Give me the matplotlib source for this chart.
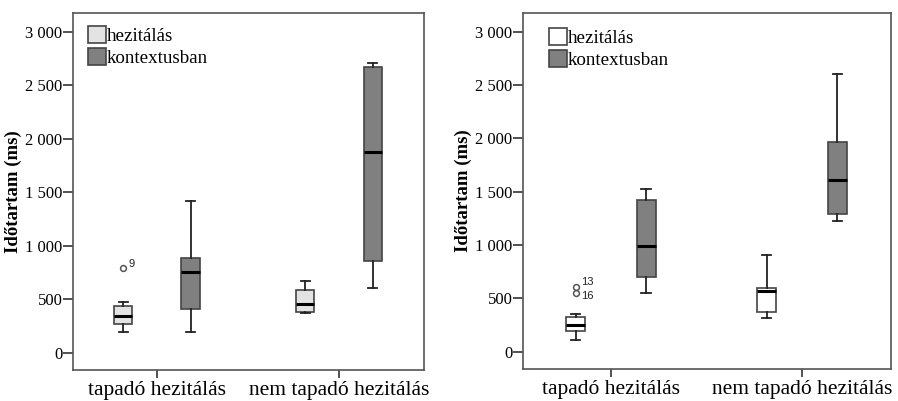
import matplotlib
matplotlib.use("Agg")
import matplotlib.pyplot as plt
from matplotlib.patches import Patch

categories = ["tapadó hezitálás", "nem tapadó hezitálás"]
series = ["hezitálás", "kontextusban"]
yticks = [0, 500, 1000, 1500, 2000, 2500, 3000]
yticklabels = ["0", "500", "1 000", "1 500", "2 000", "2 500", "3 000"]

# panel 1 stats: [whislo, q1, med, q3, whishi] per category, per series
p1_hez = [[190, 268, 340, 439, 477], [368, 377, 452, 589, 670]]
p1_kon = [[190, 408, 757, 882, 1420], [604, 857, 1872, 2666, 2704]]
p1_hez_fliers = [[791], []]
p1_hez_flier_labels = [["9"], []]

# panel 2 stats
p2_hez = [[112, 194, 250, 328, 350], [312, 369, 569, 600, 906]]
p2_kon = [[553, 700, 991, 1422, 1522], [1225, 1291, 1609, 1969, 2603]]
p2_hez_fliers = [[609, 550], []]
p2_hez_flier_labels = [["13", "16"], []]

light1 = "#e3e3e3"
light2 = "#ffffff"
dark = "#808080"
edge = "#444444"

fig = plt.figure(figsize=(8.98, 4.01), dpi=100)
ax1 = fig.add_axes([73/898, 1-370/401, 351/898, 357/401])
ax2 = fig.add_axes([523/898, 1-369/401, 368/898, 356/401])

def make_stats(vals, fliers):
    out = []
    for v, f in zip(vals, fliers):
        out.append(dict(whislo=v[0], q1=v[1], med=v[2], q3=v[3], whishi=v[4], fliers=f))
    return out

def draw(ax, hez, kon, fl, fl_labels, lightc, axw, legx, legy):
    off = 0.185
    w = 0.1
    pos = [1, 2]
    common = dict(widths=w, patch_artist=True, showfliers=True,
                  medianprops=dict(color="black", linewidth=2.2),
                  whiskerprops=dict(color="#222222", linewidth=1.3),
                  capprops=dict(color="#222222", linewidth=1.3),
                  flierprops=dict(marker="o", markersize=4.2, markerfacecolor="none",
                                  markeredgecolor="#555555", markeredgewidth=1.1))
    b1 = ax.bxp(make_stats(hez, fl), positions=[p - off for p in pos], **common)
    b2 = ax.bxp(make_stats(kon, [[], []]), positions=[p + off for p in pos], **common)
    for b in b1["boxes"]:
        b.set_facecolor(lightc); b.set_edgecolor(edge); b.set_linewidth(1.2)
    for b in b2["boxes"]:
        b.set_facecolor(dark); b.set_edgecolor(edge); b.set_linewidth(1.2)
    for i, (fs, ls) in enumerate(zip(fl, fl_labels)):
        for j, (fv, lab) in enumerate(zip(fs, ls)):
            dy = 40 if j == 0 and len(fs) > 1 else (-30 if len(fs) > 1 else 40)
            ax.text(pos[i] - off + 0.03, fv + dy, lab, fontsize=8,
                    family="Liberation Sans", color="#222222", va="center", ha="left")
    ax.set_xlim(0.54, 2.466)
    ax.set_ylim(-162, 3175)
    ax.set_xticks(pos)
    ax.set_xticklabels(categories, family="Liberation Serif", fontsize=15.5)
    ax.set_yticks(yticks)
    ax.set_yticklabels(yticklabels, family="Liberation Serif", fontsize=12)
    ax.set_ylabel("Időtartam (ms)", family="Liberation Serif", fontsize=13.5, fontweight="bold", labelpad=2)
    for s in ax.spines.values():
        s.set_color("#555555"); s.set_linewidth(1.2)
    ax.tick_params(axis="y", length=7, width=1.2, color="#333333", pad=0.5)
    ax.tick_params(axis="x", length=6, width=1.2, color="#333333", pad=2)
    handles = [Patch(facecolor=lightc, edgecolor=edge, linewidth=1.2),
               Patch(facecolor=dark, edgecolor=edge, linewidth=1.2)]
    ax.legend(handles, series, loc="upper left", frameon=False,
              prop=dict(family="Liberation Serif", size=13.7),
              handlelength=0.95, handleheight=1.0, handletextpad=0.05,
              labelspacing=0.17, borderaxespad=0, borderpad=0,
              bbox_to_anchor=(legx/axw, 1-legy/357))

draw(ax1, p1_hez, p1_kon, p1_hez_fliers, p1_hez_flier_labels, light1, 351, 15, 13)
draw(ax2, p2_hez, p2_kon, p2_hez_fliers, p2_hez_flier_labels, light2, 368, 26, 15)

fig.savefig("out.png", dpi=100)
